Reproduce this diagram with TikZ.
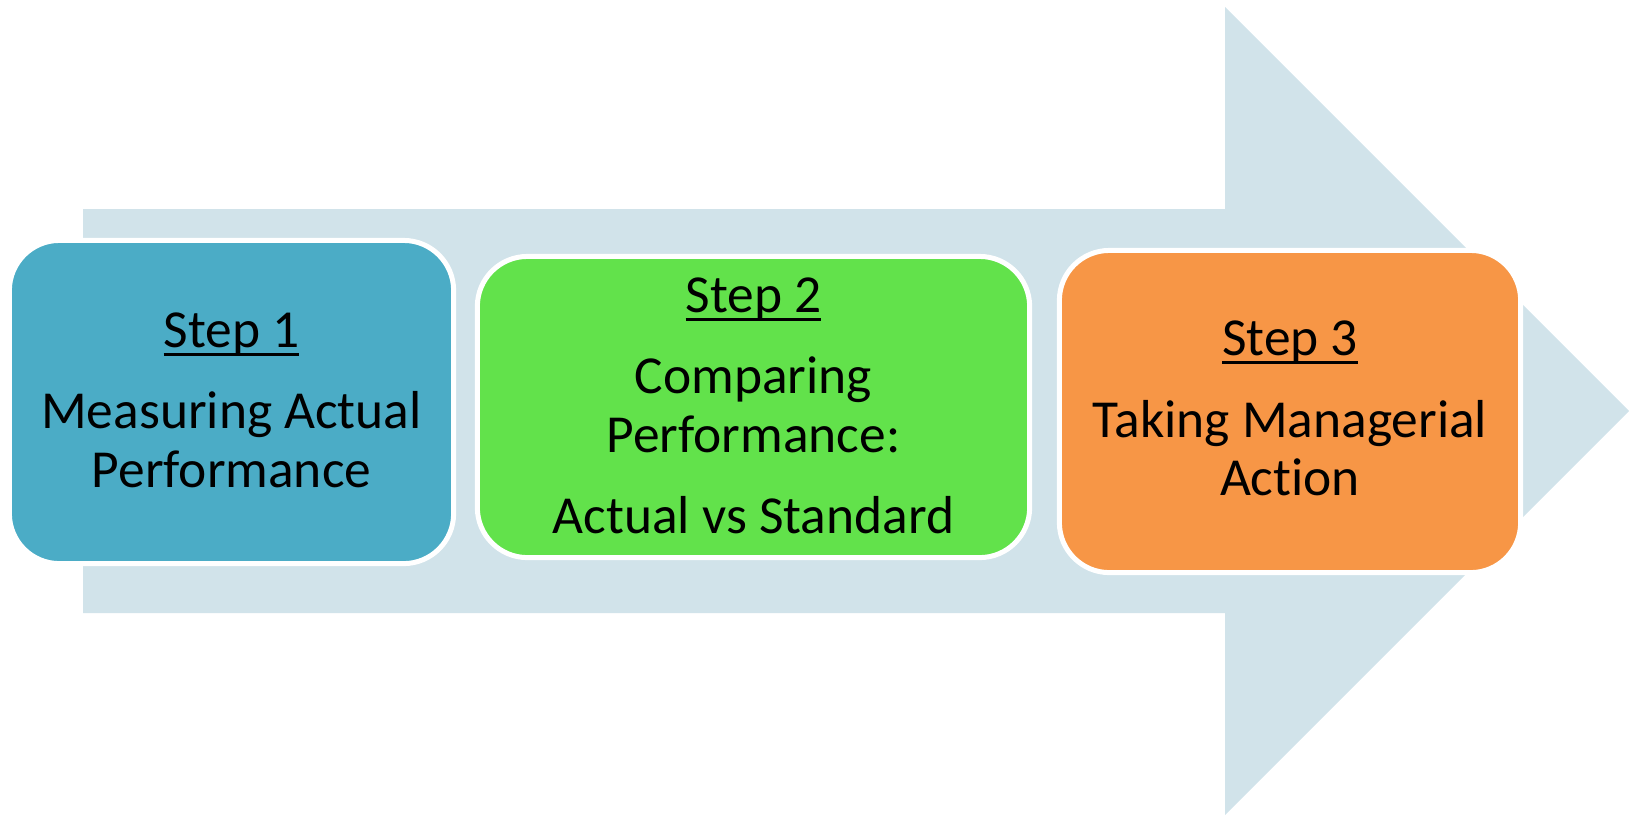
\documentclass[tikz,border=0pt]{standalone}
\usepackage{fontspec}
\setmainfont{Carlito}[Ligatures={NoCommon,NoRare,NoContextual}]
\usetikzlibrary{calc}
\definecolor{arrowbg}{HTML}{D1E3EA}
\definecolor{stepblue}{HTML}{4BACC6}
\definecolor{stepgreen}{HTML}{62E24B}
\definecolor{steporange}{HTML}{F79646}
\begin{document}
\begin{tikzpicture}[x=0.01cm,y=-0.01cm,
  stepbox/.style={rectangle, rounded corners=0.5cm, draw=white, line width=1.42pt,
    inner sep=0pt, outer sep=0pt},
  steptext/.style={anchor=base, inner sep=0pt, outer sep=0pt,
    font=\fontsize{15.2pt}{17.5pt}\selectfont},
  stepline/.style={line width=0.85pt, black}]
\useasboundingbox (0,0) rectangle (1637,814);
% background arrow
\fill[arrowbg] (83,209) -- (1225,209) -- (1225,7) -- (1629,411) -- (1225,815)
  -- (1225,613) -- (83,613) -- cycle;
% step boxes
\node[stepbox, fill=stepblue, minimum width=4.44cm, minimum height=3.23cm]
  (box1) at (231.5,402) {};
\node[stepbox, fill=stepgreen, minimum width=5.52cm, minimum height=3.01cm]
  (box2) at (753.5,407) {};
\node[stepbox, fill=steporange, minimum width=4.61cm, minimum height=3.22cm]
  (box3) at (1290,411.5) {};
% step 1 text
\node[steptext] (s1) at (231.5,347) {Step 1};
\node[steptext] (t1a) at (231.5,428) {Measuring Actual};
\node[steptext] (t1b) at (231.5,487) {Performance};
% step 2 text
\node[steptext] (s2) at (753.5,312) {Step 2};
\node[steptext] (t2a) at (753.5,393) {Comparing};
\node[steptext] (t2b) at (753.5,452) {Performance:};
\node[steptext] (t2c) at (753.5,533) {Actual vs Standard};
% step 3 text
\node[steptext] (s3) at (1290,355) {Step 3};
\node[steptext] (t3a) at (1290,437) {Taking Managerial};
\node[steptext] (t3b) at (1290,495) {Action};
% underlines of the step headings
\foreach \s in {s1,s2,s3}
  \draw[stepline] ($(\s.base west)+(0,7)$) -- ($(\s.base east)+(0,7)$);
\end{tikzpicture}
\end{document}
